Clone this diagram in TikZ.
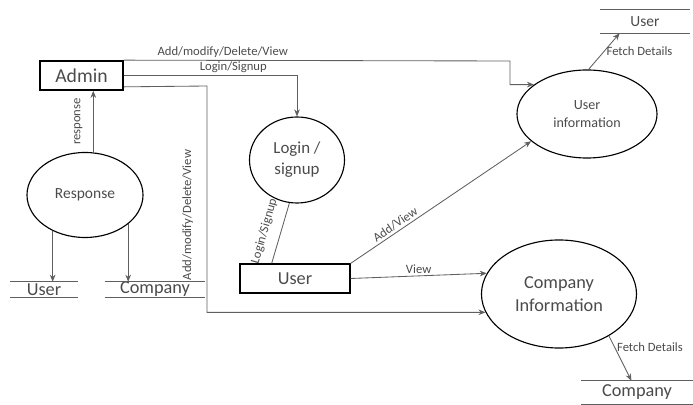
\documentclass[tikz,border=0pt]{standalone}
\usepackage{fontspec}
\setmainfont{Carlito}
\usepackage{tikz}
\usetikzlibrary{calc,arrows.meta,positioning,shapes.geometric}
\definecolor{flowgray}{RGB}{95,95,95}
\definecolor{textgray}{RGB}{75,75,75}

\begin{document}
\begin{tikzpicture}[x=0.025cm,y=-0.025cm,
  proc/.style={ellipse,draw,thick,inner sep=0pt,align=center,text=textgray},
  entity/.style={rectangle,draw,thick,inner sep=0pt,text=textgray},
  store/.style={inner sep=0pt,text=textgray,font=\fontsize{13}{15}\selectfont},
  flow/.style={-{Stealth[length=5pt,width=4pt]},flowgray,semithick},
  lbl/.style={font=\fontsize{9}{10}\selectfont,text=textgray,inner sep=1.5pt}]
  \useasboundingbox (0,0) rectangle (693,405);
  \node[entity,line width=1.2pt,minimum width=2.075cm,minimum height=0.725cm,font=\fontsize{14}{16}\selectfont] (admin) at (81.5,75.5) {Admin};
  \node[entity,minimum width=2.75cm,minimum height=0.725cm,font=\fontsize{13}{15}\selectfont] (user) at (295,278.5) {User};
  \node[proc,minimum width=2.9cm,minimum height=2.125cm,font=\fontsize{11}{13}\selectfont] (resp) at (85,195) {Response};
  \node[proc,minimum width=2.375cm,minimum height=2.15cm,font=\fontsize{12}{15}\selectfont] (login) at (297,160) {Login /\\signup};
  \node[proc,minimum width=3.5cm,minimum height=2.2cm,font=\fontsize{10}{13}\selectfont] (uinfo) at (587,114) {User\\information};
  \node[proc,minimum width=3.875cm,minimum height=2.7cm,font=\fontsize{13}{16}\selectfont] (cinfo) at (559,294) {Company\\Information};
  \node[store,minimum width=1.675cm,minimum height=0.375cm] (userstoreA) at (44,289.5) {User};
  \node[store,minimum width=2.5cm,minimum height=0.375cm] (compstoreA) at (155,289.5) {Company};
  \node[store,minimum width=2.25cm,minimum height=0.575cm,font=\fontsize{11}{13}\selectfont] (userstoreB) at (645,21.5) {User};
  \node[store,minimum width=2.775cm,minimum height=0.575cm] (compstoreB) at (637,392.5) {Company};
  \foreach \s in {userstoreA,compstoreA,userstoreB,compstoreB}
    \draw[flowgray,semithick] (\s.north west) -- (\s.north east) (\s.south west) -- (\s.south east);
  \draw[flow] (admin.north east) -- node[lbl,above,pos=0.256] (lblA) {Add/modify/Delete/View} (510,61) |- (uinfo.151);
  \draw[flow] (admin.east) -| node[lbl,above,pos=0.316] (lblB) {Login/Signup} (login.north);
  \draw[flow] ($(admin.south east)+(0,-4)$) -- (207,86) |- node[lbl,pos=0.285,xshift=-8pt,rotate=90,anchor=south] (lblC) {Add/modify/Delete/View} (cinfo.194);
  \draw[flow] (resp.79) -- node[lbl,midway,xshift=-6pt,rotate=90,anchor=south] (lblD) {response} (resp.79 |- admin.south);
  \draw[flow] (resp.228) -- (resp.228 |- userstoreA.north);
  \draw[flow] (resp.326) -- (resp.326 |- compstoreA.north);
  \draw[flowgray,semithick] ($(user.north west)!0.29!(user.north east)$) -- node[lbl,midway,xshift=-6pt,rotate=74,anchor=south] (lblE) {Login/Signup} (login.260);
  \draw[flow] (user.north east) -- node[lbl,pos=0.27,rotate=34,anchor=south] (lblF) {Add/View} (uinfo.206);
  \draw[flow] (user.east) -- node[lbl,above,pos=0.5] (lblG) {View} (cinfo.164);
  \draw[flow] (uinfo.88) -- node[lbl,right,pos=0.5] (lblH) {Fetch Details} ($(userstoreB.south west)!0.22!(userstoreB.south east)$);
  \draw[flow] (cinfo.320) -- node[lbl,right,pos=0.25] (lblI) {Fetch Details} ($(compstoreB.north west)!0.45!(compstoreB.north east)$);
\end{tikzpicture}
\end{document}
